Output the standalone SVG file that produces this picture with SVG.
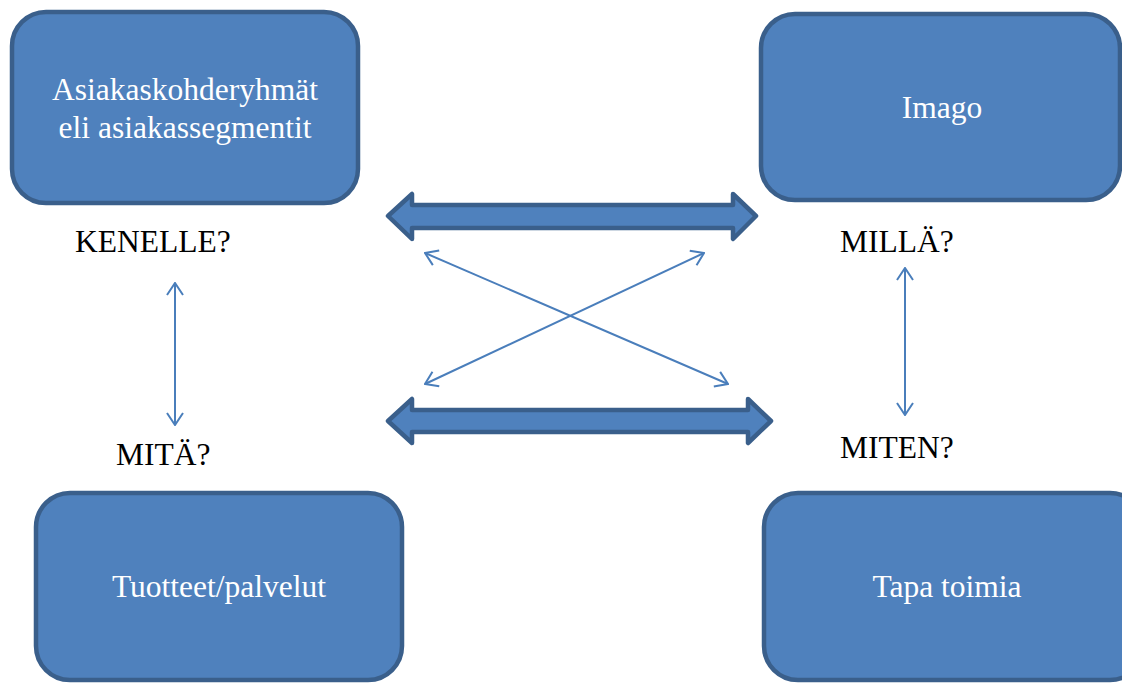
<svg xmlns="http://www.w3.org/2000/svg" width="1122" height="684" viewBox="0 0 1122 684">
<style>
.box{fill:#4f81bd;stroke:#3a5f8b;stroke-width:4.5}
.bt{font-family:"Liberation Serif","Times New Roman",serif;font-size:31.5px;fill:#ffffff;text-anchor:middle}
.lbl{font-family:"Liberation Serif","Times New Roman",serif;font-size:31.5px;fill:#000000}
.blk{fill:#4f81bd;stroke:#3a5f8b;stroke-width:4.5;stroke-linejoin:round}
.thin{fill:none;stroke:#4a7ebb;stroke-width:2;marker-start:url(#ah);marker-end:url(#ah)}
</style>
<defs>
<marker id="ah" viewBox="0 0 14 18" refX="13" refY="9" markerWidth="14" markerHeight="18" markerUnits="userSpaceOnUse" orient="auto-start-reverse">
<path d="M1,1 L13,9 L1,17" fill="none" stroke="#4a7ebb" stroke-width="2"/>
</marker>
</defs>
<g id="node-asiakas">
<rect class="box" x="12" y="12" width="346" height="191" rx="34"/>
<text class="bt" x="185" y="100">Asiakaskohderyhmät</text>
<text class="bt" x="185" y="138">eli asiakassegmentit</text>
</g>
<g id="node-imago">
<rect class="box" x="761" y="14" width="359" height="186" rx="34"/>
<text class="bt" x="942" y="118">Imago</text>
</g>
<g id="node-tuotteet">
<rect class="box" x="36" y="493" width="366" height="187" rx="34"/>
<text class="bt" x="219" y="597">Tuotteet/palvelut</text>
</g>
<g id="node-tapa">
<rect class="box" x="764" y="493" width="380" height="187" rx="34"/>
<text class="bt" x="947" y="597">Tapa toimia</text>
</g>
<g id="labels">
<text class="lbl" x="75" y="252">KENELLE?</text>
<text class="lbl" x="840" y="252">MILLÄ?</text>
<text class="lbl" x="116" y="465">MITÄ?</text>
<text class="lbl" x="840" y="458">MITEN?</text>
</g>
<g id="connectors">
<path class="blk" d="M388,216 L412,194 L412,205 L733,205 L733,194 L756,216 L733,239 L733,228 L412,228 L412,239 Z"/>
<path class="blk" d="M388,421 L412,399 L412,410 L748,410 L748,399 L771,421 L748,443 L748,432 L412,432 L412,443 Z"/>
<line class="thin" x1="175" y1="283" x2="175" y2="425"/>
<line class="thin" x1="905" y1="268" x2="905" y2="415"/>
<line class="thin" x1="425" y1="253" x2="728" y2="384"/>
<line class="thin" x1="704" y1="253" x2="425" y2="384"/>
</g>
</svg>
